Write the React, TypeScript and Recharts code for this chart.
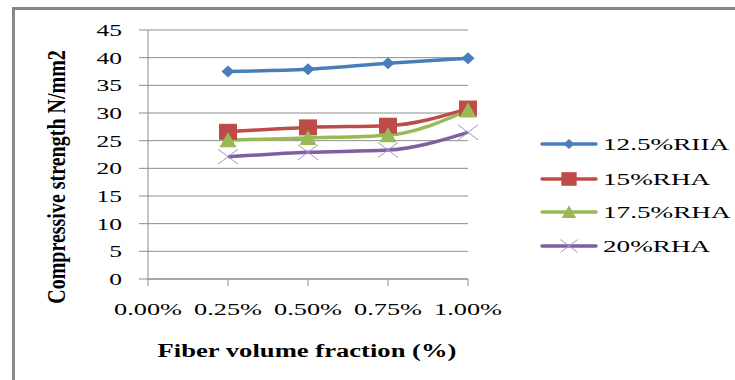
import React from "react"
import { LineChart, Line, XAxis, YAxis, CartesianGrid, Label } from "recharts"

// fiber volume fraction (as a fraction of 1 %) and compressive strength per RHA replacement level
const fractions = [0.25, 0.5, 0.75, 1.0]
const xTicks = [0, 0.25, 0.5, 0.75, 1.0]
const yTicks = [0, 5, 10, 15, 20, 25, 30, 35, 40, 45]
const rha125 = [37.5, 37.9, 39.0, 39.9]
const rha15 = [26.6, 27.4, 27.7, 30.8]
const rha175 = [25.1, 25.5, 26.0, 30.5]
const rha20 = [22.1, 22.9, 23.3, 26.5]

const seriesNames = ["12.5%RIIA", "15%RHA", "17.5%RHA", "20%RHA"]
const colors = ["#4a7ebb", "#be4b48", "#98b954", "#7d60a0"]

const data = fractions.map((f, i) => ({
  f,
  a: rha125[i],
  b: rha15[i],
  c: rha175[i],
  d: rha20[i],
}))

const FONT = "Times New Roman, Liberation Serif, serif"
// all text in this figure is stretched sideways
const STRETCH = 1.5

type Shape = "diamond" | "square" | "triangle" | "cross"
const shapes: Shape[] = ["diamond", "square", "triangle", "cross"]

function Marker({ cx, cy, shape, color, k = 1 }: { cx: number; cy: number; shape: Shape; color: string; k?: number }) {
  if (shape === "diamond") {
    const rx = 6.5 * k
    const ry = 6 * k
    return <polygon points={`${cx},${cy - ry} ${cx + rx},${cy} ${cx},${cy + ry} ${cx - rx},${cy}`} fill={color} />
  }
  if (shape === "square") {
    const rx = 9 * k
    const ry = 8 * k
    return <rect x={cx - rx} y={cy - ry} width={rx * 2} height={ry * 2} fill={color} />
  }
  if (shape === "triangle") {
    const rx = 8.5 * k
    const ry = 8 * k
    return <polygon points={`${cx},${cy - ry} ${cx + rx},${cy + ry * 0.9} ${cx - rx},${cy + ry * 0.9}`} fill={color} />
  }
  const rx = 10 * k
  const ry = 7.5 * k
  return (
    <g stroke="#a58fc9" strokeWidth={1}>
      <line x1={cx - rx} y1={cy - ry} x2={cx + rx} y2={cy + ry} />
      <line x1={cx - rx} y1={cy + ry} x2={cx + rx} y2={cy - ry} />
    </g>
  )
}

const makeDot = (i: number) => (props: any) => (
  <Marker key={`${i}-${props.index}`} cx={props.cx} cy={props.cy} shape={shapes[i]} color={colors[i]} />
)

function XTick(props: any) {
  const { x, y, payload } = props
  return (
    <text
      transform={`translate(${x},${y}) scale(1.55,1)`}
      dy="0.71em"
      textAnchor="middle"
      fontFamily={FONT}
      fontSize={17}
      fill="#000"
    >
      {`${payload.value.toFixed(2)}%`}
    </text>
  )
}

function YTick(props: any) {
  const { x, y, payload } = props
  return (
    <text
      transform={`translate(${x},${y}) scale(${STRETCH},1)`}
      dy="0.35em"
      textAnchor="end"
      fontFamily={FONT}
      fontSize={17}
      fill="#000"
    >
      {payload.value}
    </text>
  )
}

function LegendBox() {
  const rows = [17, 52, 85, 119]
  return (
    <svg style={{ position: "absolute", left: 540, top: 127 }} width={195} height={140}>
      {seriesNames.map((name, i) => (
        <g key={name}>
          <line x1={2} y1={rows[i]} x2={56} y2={rows[i]} stroke={colors[i]} strokeWidth={3.5} strokeLinecap="round" />
          <Marker cx={29} cy={rows[i]} shape={shapes[i]} color={colors[i]} k={0.85} />
          <text
            transform={`translate(63,${rows[i]}) scale(1.6,1)`}
            dy="0.35em"
            fontFamily={FONT}
            fontSize={17}
            fill="#000"
          >
            {name}
          </text>
        </g>
      ))}
    </svg>
  )
}

export default function App() {
  const keys = ["a", "b", "c", "d"]
  return (
    <div style={{ position: "absolute", left: 0, top: 0, width: 735, height: 380, background: "#fff" }}>
      {/* frame: only the top and left edges show */}
      <div
        style={{
          position: "absolute",
          left: 12,
          top: 7,
          width: 735,
          height: 380,
          borderTop: "3px solid #888",
          borderLeft: "3px solid #888",
        }}
      />
      <LineChart width={735} height={380} data={data} margin={{ top: 30, right: 267, bottom: 71, left: 0 }}>
        <CartesianGrid horizontal vertical={false} stroke="#8c8c8c" strokeWidth={1} />
        <XAxis
          dataKey="f"
          type="number"
          domain={[0, 1]}
          ticks={xTicks}
          interval={0}
          stroke="#8c8c8c"
          tickSize={7}
          height={30}
          tickMargin={17}
          tick={<XTick />}
        >
          <Label
            content={() => (
              <text
                transform={`translate(307,357) scale(1.48,1)`}
                textAnchor="middle"
                fontFamily={FONT}
                fontSize={18}
                fontWeight="bold"
                fill="#000"
              >
                Fiber volume fraction (%)
              </text>
            )}
          />
        </XAxis>
        <YAxis
          type="number"
          domain={[0, 45]}
          ticks={yTicks}
          interval={0}
          width={148}
          stroke="#8c8c8c"
          tickSize={9}
          tickMargin={17}
          tick={<YTick />}
        >
          <Label
            content={() => (
              <text
                transform="translate(65,177) scale(1.3,1) rotate(-90)"
                textAnchor="middle"
                fontFamily={FONT}
                fontSize={20}
                fontWeight="bold"
                fill="#000"
              >
                Compressive strength N/mm2
              </text>
            )}
          />
        </YAxis>
        {keys.map((k, i) => (
          <Line
            key={k}
            type="monotone"
            dataKey={k}
            name={seriesNames[i]}
            stroke={colors[i]}
            strokeWidth={3.5}
            dot={makeDot(i)}
            activeDot={false}
            isAnimationActive={false}
          />
        ))}
      </LineChart>
      <LegendBox />
    </div>
  )
}
